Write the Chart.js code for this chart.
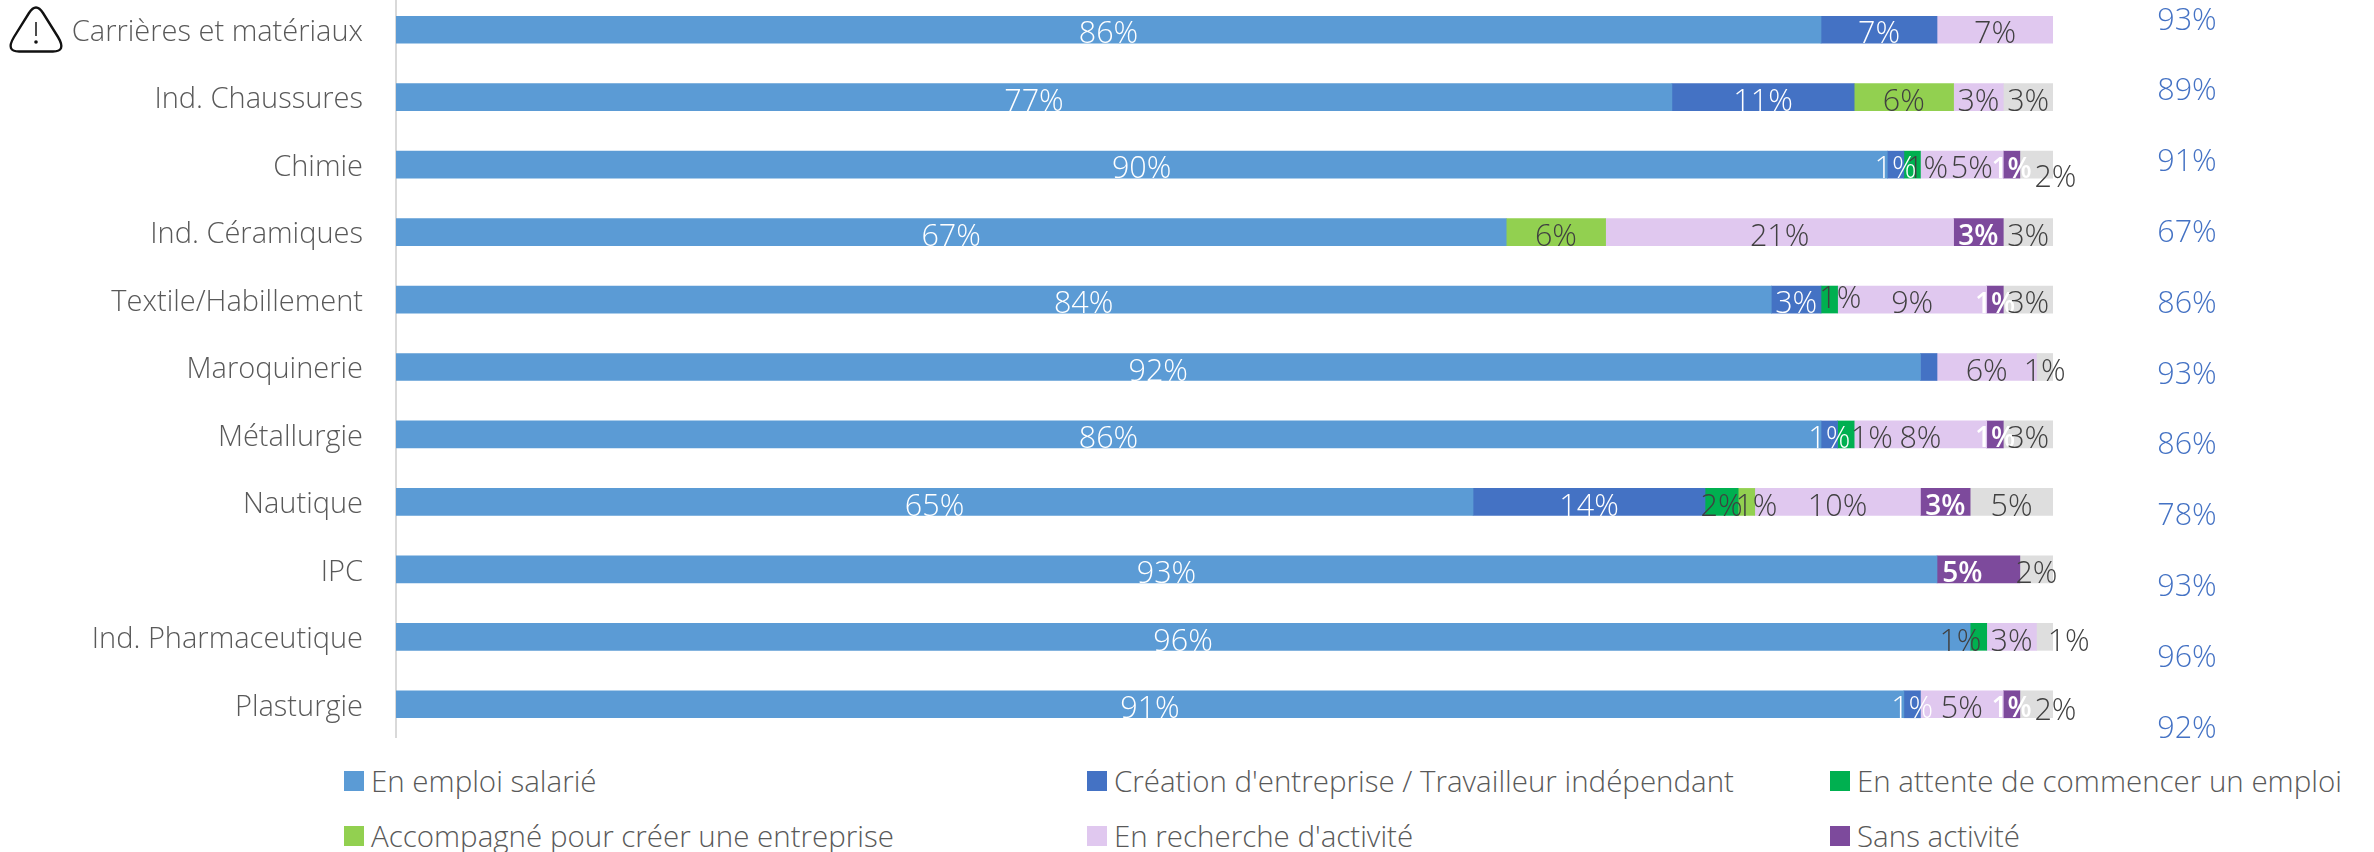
<!DOCTYPE html>
<html lang="fr">
<head>
  <meta charset="UTF-8" />
  <title>Situation par filière</title>
  <script src="https://cdn.jsdelivr.net/npm/chart.js"></script>
  <style>
    html, body { margin: 0; padding: 0; background: #fff; overflow: hidden; }
    body { width: 2374px; height: 852px; position: relative; font-family: 'Open Sans', sans-serif; font-weight: 300; color: #595959; }
    #wrap { position: absolute; left: 0; top: -4px; width: 2374px; height: 742px; }
    #warn { position: absolute; left: 8px; top: 5px; overflow: visible; }
    .leg { position: absolute; font-size: 29.5px; line-height: 30px; white-space: nowrap; padding-left: 27px; }
    .leg i { position: absolute; left: 0; top: 5px; width: 20px; height: 20px; }
  </style>
</head>
<body>
  <div id="wrap"><canvas id="chart"></canvas></div>
  <svg id="warn" width="58" height="50" viewBox="0 0 58 50">
    <path d="M21 8 Q28 -3 35 8 L50 32 Q59 47 44 46.5 L12 46.5 Q-3 47 6 32 Z" fill="none" stroke="#111" stroke-width="2.4"/>
    <line x1="28" y1="17" x2="28" y2="31" stroke="#111" stroke-width="1.5"/>
    <circle cx="28" cy="37" r="1.8" fill="#111"/>
  </svg>
  <div id="legend"></div>

  <script>
    const categories = ["Carrières et matériaux", "Ind. Chaussures", "Chimie", "Ind. Céramiques", "Textile/Habillement", "Maroquinerie", "Métallurgie", "Nautique", "IPC", "Ind. Pharmaceutique", "Plasturgie"];

    // bar lengths
    const salarie   = [86, 77, 90, 67, 83, 92, 86, 65, 93, 95, 91];
    const creation  = [7, 11, 1, null, 3, 1, 1, 14, null, null, 1];
    const attente   = [null, null, 1, null, 1, null, 1, 2, null, 1, null];
    const accompagne = [null, 6, null, 6, null, null, null, 1, null, null, null];
    const recherche = [7, 3, 5, 21, 9, 6, 8, 10, null, 3, 5];
    const sansActivite = [null, null, 1, 3, 1, null, 1, 3, 5, null, 1];
    const autre     = [null, 3, 2, 3, 3, 1, 3, 5, 2, 1, 2];

    // printed labels that differ from the bar length
    const salarieLabels  = [86, 77, 90, 67, 84, 92, 86, 65, 93, 96, 91];
    const creationLabels = [7, 11, 1, null, 3, null, 1, 14, null, null, 1];

    const totals = [93, 89, 91, 67, 86, 93, 86, 78, 93, 96, 92];

    const seriesNames = ["En emploi salarié", "Création d'entreprise / Travailleur indépendant", "En attente de commencer un emploi", "Accompagné pour créer une entreprise", "En recherche d'activité", "Sans activité", "Autre"];
    const seriesColors = ["#5b9bd5", "#4472c4", "#00b050", "#92d050", "#e0c8ef", "#7d4a9c", "#dedede"];
    const seriesValues = [salarie, creation, attente, accompagne, recherche, sansActivite, autre];
    const seriesLabels = [salarieLabels, creationLabels, attente, accompagne, recherche, sansActivite, autre];
    const labelColors = ["#fff", "#fff", "#404040", "#404040", "#404040", "#fff", "#404040"];

    // labels moved by hand in the original: [row, series, dx, dy]
    const labelMoves = [
      [2, 2, 15, 0], [2, 4, 10, 0], [2, 6, 19, 9],
      [4, 2, 11, -5],
      [6, 2, 26, 0],
      [7, 3, 10, 0],
      [8, 5, -16, 0],
      [9, 2, -18, 0], [9, 6, 24, 0],
      [10, 6, 19, 2]
    ];

    const barLabels = {
      id: 'barLabels',
      afterDatasetsDraw(chart) {
        const ctx = chart.ctx;
        ctx.save();
        ctx.textAlign = 'center';
        ctx.textBaseline = 'middle';
        seriesLabels.forEach((labels, s) => {
          const meta = chart.getDatasetMeta(s);
          ctx.fillStyle = labelColors[s];
          ctx.font = s === 5 ? "600 28px 'Open Sans'" : "300 30.5px 'Open Sans'";
          labels.forEach((v, i) => {
            if (v === null) return;
            const bar = meta.data[i];
            const move = labelMoves.find(m => m[0] === i && m[1] === s) || [0, 0, 0, 0];
            ctx.fillText(v + '%', (bar.x + bar.base) / 2 + move[2], bar.y + 5 + move[3]);
          });
        });
        // totals column, its rows are not aligned with the bars
        const right = chart.scales.x.right;
        ctx.fillStyle = '#4472c4';
        ctx.font = "300 30.5px 'Open Sans'";
        totals.forEach((v, i) => {
          ctx.fillText(v + '%', right + 134, 25 + i * 70.8);
        });
        ctx.restore();
      }
    };

    new Chart(document.getElementById('chart'), {
      type: 'bar',
      data: {
        labels: categories,
        datasets: seriesNames.map((name, s) => ({
          label: name,
          data: seriesValues[s],
          backgroundColor: seriesColors[s],
          barThickness: 27
        }))
      },
      options: {
        indexAxis: 'y',
        responsive: true,
        maintainAspectRatio: false,
        animation: false,
        layout: { padding: { left: 0, right: 321, top: 0, bottom: 0 } },
        plugins: { legend: { display: false }, tooltip: { enabled: false } },
        scales: {
          x: { stacked: true, min: 0, max: 100, display: false },
          y: {
            stacked: true,
            afterFit(scale) { scale.width = 396; scale.paddingTop = 0; scale.paddingBottom = 0; },
            grid: { display: false, drawTicks: false },
            border: { color: '#d9d9d9', width: 2 },
            ticks: { color: '#595959', padding: 33, labelOffset: 3, font: { family: "'Open Sans'", size: 29, weight: '300' } }
          }
        }
      },
      plugins: [barLabels]
    });

    // legend, 3 columns, the last series does not appear in it
    const legendX = [344, 1087, 1830];
    const legendY = [766, 821];
    document.getElementById('legend').innerHTML = seriesNames.slice(0, 6).map((name, s) =>
      `<div class="leg" style="left:${legendX[s % 3]}px;top:${legendY[Math.floor(s / 3)]}px"><i style="background:${seriesColors[s]}"></i>${name}</div>`
    ).join('');
  </script>
</body>
</html>
